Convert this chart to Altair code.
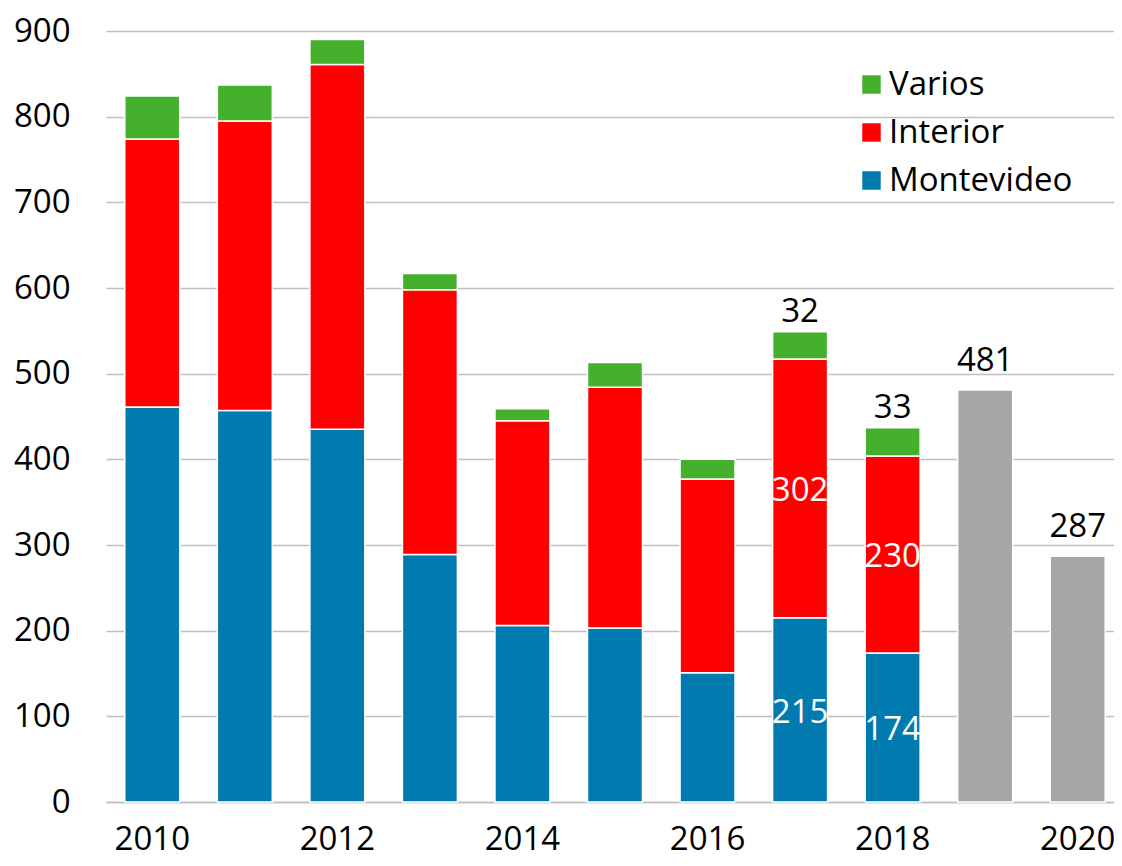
import altair as alt
import pandas as pd

years = [2010, 2011, 2012, 2013, 2014, 2015, 2016, 2017, 2018]
montevideo = [461, 457, 435, 289, 206, 203, 151, 215, 174]
interior = [313, 338, 426, 309, 239, 281, 226, 302, 230]
varios = [50, 42, 29, 19, 14, 29, 23, 32, 33]
total_years = [2019, 2020]
totals = [481, 287]
labeled_years = [2017, 2018]

series = ["Varios", "Interior", "Montevideo"]
colors = ["#44B02C", "#FF0000", "#007AAF"]
all_years = years + total_years

rows = []
for i, y in enumerate(years):
    rows.append(dict(year=y, serie="Montevideo", value=montevideo[i], orden=0))
    rows.append(dict(year=y, serie="Interior", value=interior[i], orden=1))
    rows.append(dict(year=y, serie="Varios", value=varios[i], orden=2))
df = pd.DataFrame(rows)

inner = []
top = []
for i, y in enumerate(years):
    if y in labeled_years:
        inner.append(dict(year=y, pos=montevideo[i] / 2, txt=str(montevideo[i])))
        inner.append(dict(year=y, pos=montevideo[i] + interior[i] / 2, txt=str(interior[i])))
        top.append(dict(year=y, pos=montevideo[i] + interior[i] + varios[i], txt=str(varios[i])))
df_inner = pd.DataFrame(inner)
df_top = pd.DataFrame(top)
df_tot = pd.DataFrame(dict(year=total_years, value=totals, txt=[str(t) for t in totals]))

FONT = "Open Sans"
FS = 33

xscale = alt.Scale(domain=all_years, range=[0, 1018], paddingInner=0.406, paddingOuter=0.203)
yscale = alt.Scale(domain=[0, 900], nice=False)

xaxis = alt.Axis(title=None, labelAngle=0, ticks=False, grid=False,
                 domainColor="#BFBFBF", domainWidth=1.5,
                 labelFontSize=FS, labelColor="#000000", labelPadding=21,
                 labelExpr="datum.value % 2 == 0 ? datum.label : ''")
yaxis = alt.Axis(title=None, values=list(range(0, 901, 100)), ticks=False, domain=False,
                 gridColor="#BFBFBF", gridWidth=1.5, labelFontSize=FS,
                 labelColor="#000000", labelPadding=36)

bars = alt.Chart(df).mark_bar(stroke="white", strokeWidth=1.5).encode(
    x=alt.X("year:O", scale=xscale, axis=xaxis),
    y=alt.Y("sum(value):Q", scale=yscale, axis=yaxis, stack="zero"),
    color=alt.Color("serie:N", scale=alt.Scale(domain=series, range=colors),
                    legend=alt.Legend(title=None, orient="none", legendX=749, legendY=37,
                                      symbolType="square", symbolSize=340,
                                      symbolStrokeWidth=0, labelFontSize=FS,
                                      labelColor="#000000", labelOffset=1,
                                      labelLimit=0,
                                      rowPadding=14, labelFont=FONT)),
    order=alt.Order("orden:Q", sort="ascending"),
)

grey = alt.Chart(df_tot).mark_bar(color="#A6A6A6", stroke="white", strokeWidth=1.5).encode(
    x=alt.X("year:O", scale=xscale),
    y=alt.Y("value:Q", scale=yscale),
)

inner_txt = alt.Chart(df_inner).mark_text(color="white", fontSize=FS, baseline="middle",
                                          dy=3, font=FONT).encode(
    x=alt.X("year:O", scale=xscale),
    y=alt.Y("pos:Q", scale=yscale),
    text="txt:N",
)

top_txt = alt.Chart(df_top).mark_text(color="black", fontSize=FS, baseline="alphabetic",
                                      dy=-10, font=FONT).encode(
    x=alt.X("year:O", scale=xscale),
    y=alt.Y("pos:Q", scale=yscale),
    text="txt:N",
)

tot_txt = alt.Chart(df_tot).mark_text(color="black", fontSize=FS, baseline="alphabetic",
                                      dy=-19, font=FONT).encode(
    x=alt.X("year:O", scale=xscale),
    y=alt.Y("value:Q", scale=yscale),
    text="txt:N",
)

chart = alt.layer(bars, grey, inner_txt, top_txt, tot_txt).properties(
    width=1008, height=771,
    autosize=alt.AutoSizeParams(type="none"),
    padding={"left": 98, "top": 23, "right": 0, "bottom": 56},
).configure(font=FONT).configure_view(stroke=None)

chart.save("out.html", embed_options={"renderer": "svg", "actions": False})
